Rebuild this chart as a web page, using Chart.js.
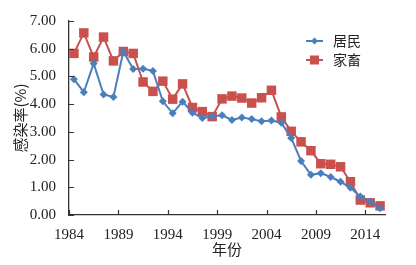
<!DOCTYPE html>
<html>
<head>
<meta charset="utf-8">
<script src="https://cdn.jsdelivr.net/npm/chart.js@4/dist/chart.umd.min.js"></script>
<style>
	html, body { margin: 0; padding: 0; background: #fff; }
	#wrap { position: relative; width: 416px; height: 265px; }
</style>
</head>
<body>
<div id="wrap"><canvas id="chart" width="416" height="265"></canvas></div>
<script>
"use strict";

// years 1984..2015, one point per year
const years = [1984, 1985, 1986, 1987, 1988, 1989, 1990, 1991, 1992, 1993, 1994, 1995, 1996, 1997, 1998, 1999,
	2000, 2001, 2002, 2003, 2004, 2005, 2006, 2007, 2008, 2009, 2010, 2011, 2012, 2013, 2014, 2015];
const residents = [4.90, 4.43, 5.47, 4.35, 4.26, 5.90, 5.27, 5.28, 5.20, 4.10, 3.67, 4.09, 3.69, 3.50, 3.55, 3.60,
	3.43, 3.52, 3.46, 3.38, 3.41, 3.33, 2.78, 1.95, 1.45, 1.51, 1.37, 1.20, 0.98, 0.67, 0.49, 0.24];
const livestock = [5.83, 6.57, 5.70, 6.42, 5.56, 5.90, 5.83, 4.80, 4.46, 4.83, 4.18, 4.73, 3.88, 3.73, 3.55, 4.19,
	4.29, 4.22, 4.04, 4.23, 4.50, 3.54, 3.02, 2.64, 2.32, 1.85, 1.83, 1.74, 1.20, 0.54, 0.44, 0.33];
const xTicks = [1984, 1989, 1994, 1999, 2004, 2009, 2014];
const seriesNames = ["居民", "家畜"];

const BLUE = "#4a7ebd";
const RED = "#c9504c";
const AXIS = "#333";
const NUM_FONT = "'Liberation Serif', 'Times New Roman', serif";
const CJK_FONT = "'Noto Sans CJK SC', sans-serif";

// each year sits in the middle of its slot on the axis
function pts(vals) {
	return vals.map(function (v, i) { return { x: years[i] + 0.5, y: v }; });
}

// tick marks drawn on the inside of the axes
const innerTicks = {
	id: "innerTicks",
	afterDraw: function (chart) {
		const ctx = chart.ctx;
		const area = chart.chartArea;
		const xs = chart.scales.x, ys = chart.scales.y;
		ctx.save();
		ctx.strokeStyle = AXIS;
		ctx.lineWidth = 1.2;
		ctx.beginPath();
		xs.ticks.forEach(function (t) {
			const px = Math.round(xs.getPixelForValue(t.value)) + 0.5;
			ctx.moveTo(px, area.bottom);
			ctx.lineTo(px, area.bottom - 5);
		});
		ys.ticks.forEach(function (t) {
			const py = Math.round(ys.getPixelForValue(t.value)) + 0.5;
			ctx.moveTo(area.left, py);
			ctx.lineTo(area.left + 5, py);
		});
		ctx.stroke();
		ctx.restore();
	}
};

// legend: short line with marker, then the name
const lineLegend = {
	id: "lineLegend",
	afterDraw: function (chart) {
		const ctx = chart.ctx;
		const x0 = 306, x1 = 323, tx = 333;
		const rows = [{ y: 41, color: BLUE, shape: "diamond" }, { y: 60, color: RED, shape: "square" }];
		ctx.save();
		rows.forEach(function (r, i) {
			ctx.strokeStyle = r.color;
			ctx.fillStyle = r.color;
			ctx.lineWidth = 2;
			ctx.beginPath();
			ctx.moveTo(x0, r.y);
			ctx.lineTo(x1, r.y);
			ctx.stroke();
			const cx = (x0 + x1) / 2;
			ctx.beginPath();
			if (r.shape === "diamond") {
				ctx.moveTo(cx, r.y - 3.5);
				ctx.lineTo(cx + 3.5, r.y);
				ctx.lineTo(cx, r.y + 3.5);
				ctx.lineTo(cx - 3.5, r.y);
				ctx.closePath();
			} else {
				ctx.rect(cx - 4.5, r.y - 4.5, 9, 9);
			}
			ctx.fill();
			ctx.fillStyle = "#222";
			ctx.font = "14px " + CJK_FONT;
			ctx.textBaseline = "middle";
			ctx.textAlign = "left";
			ctx.fillText(seriesNames[i], tx, r.y);
		});
		ctx.restore();
	}
};

new Chart(document.getElementById("chart"), {
	type: "line",
	data: {
		datasets: [
			{
				label: seriesNames[0],
				data: pts(residents),
				borderColor: BLUE, backgroundColor: BLUE,
				borderWidth: 2, tension: 0,
				pointStyle: "rectRot", pointRadius: 4, pointBorderWidth: 0
			},
			{
				label: seriesNames[1],
				data: pts(livestock),
				borderColor: RED, backgroundColor: RED,
				borderWidth: 2, tension: 0,
				pointStyle: "rect", pointRadius: 6.7, pointBorderWidth: 0
			}
		]
	},
	options: {
		responsive: false,
		animation: false,
		events: [],
		layout: { padding: { left: 0, right: 31, top: 21, bottom: 0 } },
		plugins: { legend: { display: false }, tooltip: { enabled: false } },
		scales: {
			x: {
				type: "linear",
				min: 1984, max: 2016,
				afterBuildTicks: function (scale) {
					scale.ticks = xTicks.map(function (v) { return { value: v }; });
				},
				afterFit: function (scale) { scale.height = 50; },
				grid: { display: false },
				border: { display: true, color: AXIS, width: 1.3 },
				ticks: {
					color: "#222", padding: 3,
					font: { family: NUM_FONT, size: 15 },
					maxRotation: 0,
					callback: function (v) { return String(v); }
				},
				title: {
					display: true, text: "年份", color: "#222",
					font: { family: CJK_FONT, size: 15 },
					padding: { top: 0, bottom: 7 }
				}
			},
			y: {
				min: 0, max: 7,
				afterFit: function (scale) { scale.width = 69; },
				grid: { display: false },
				border: { display: true, color: AXIS, width: 1.3 },
				ticks: {
					stepSize: 1, color: "#222", padding: 5,
					font: { family: NUM_FONT, size: 15 },
					callback: function (v) { return v.toFixed(2); }
				},
				title: {
					display: true, text: "感染率(%)", color: "#222",
					font: { family: CJK_FONT, size: 15 },
					padding: { top: 11, bottom: 0 }
				}
			}
		}
	},
	plugins: [innerTicks, lineLegend]
});
</script>
</body>
</html>
